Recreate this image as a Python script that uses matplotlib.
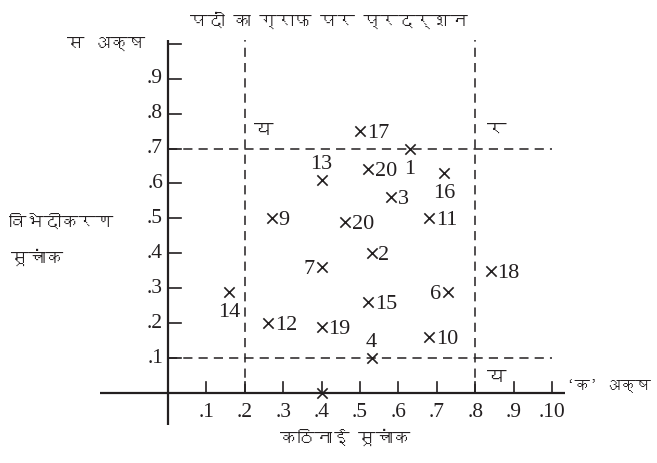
import matplotlib
matplotlib.use("Agg")
import matplotlib.pyplot as plt
from matplotlib import font_manager
from matplotlib.ft2font import FT2Font

# item data: difficulty index (x), discrimination index (y)
item_labels = ["1", "17", "20", "16", "3", "20", "11", "13", "9", "2",
               "18", "6", "15", "10", "4", "7", "14", "12", "19", ""]
difficulty = [0.63, 0.50, 0.52, 0.72, 0.58, 0.46, 0.68, 0.40, 0.27, 0.53,
              0.84, 0.73, 0.52, 0.68, 0.53, 0.40, 0.16, 0.26, 0.40, 0.40]
discrimination = [0.70, 0.75, 0.64, 0.63, 0.56, 0.49, 0.50, 0.61, 0.50, 0.40,
                  0.35, 0.29, 0.26, 0.16, 0.10, 0.36, 0.29, 0.20, 0.19, 0.00]

tick_values = [0.1, 0.2, 0.3, 0.4, 0.5, 0.6, 0.7, 0.8, 0.9, 1.0]
x_tick_labels = [".1", ".2", ".3", ".4", ".5", ".6", ".7", ".8", ".9", ".10"]
y_tick_labels = [".1", ".2", ".3", ".4", ".5", ".6", ".7", ".8", ".9", ""]

low_cut, high_cut = 0.2, 0.8      # difficulty limits
disc_low, disc_high = 0.1, 0.7    # discrimination limits

# where each item number sits around its cross
label_side = ["b", "r", "r", "b", "r", "r", "r", "t", "r", "r",
              "r", "l", "r", "r", "t", "l", "b", "r", "r", "r"]


def find_family(ch):
    for f in font_manager.fontManager.ttflist:
        try:
            if ord(ch) in FT2Font(f.fname).get_charmap():
                return f.name
        except Exception:
            pass
    return None


deva = find_family("क")
hindi_fam = [deva, "DejaVu Sans"] if deva else ["DejaVu Sans"]
num_fam = ["Liberation Serif", "DejaVu Serif"]
ink = "#231f20"
hsize = 12.5

fig = plt.figure(figsize=(6.57, 4.63), dpi=100)
ax = fig.add_axes([0, 0, 1, 1])
ax.set_xlim(-0.4375, 1.2734)
ax.set_ylim(-0.1986, 1.1243)
ax.axis("off")

# axes lines
ax.plot([-0.176, 1.034], [0, 0], color=ink, lw=1.6, solid_capstyle="butt")
ax.plot([0, 0], [-0.09, 1.01], color=ink, lw=1.6, solid_capstyle="butt")
for t, lab in zip(tick_values, x_tick_labels):
    ax.plot([t, t], [0, 0.034], color=ink, lw=1.2)
    ax.text(t, -0.028, lab, ha="center", va="top", fontsize=15.5,
            family=num_fam, color=ink)
for t, lab in zip(tick_values, y_tick_labels):
    ax.plot([0, 0.034], [t, t], color=ink, lw=1.2)
    if lab:
        ax.text(-0.013, t, lab, ha="right", va="center", fontsize=15.5,
                family=num_fam, color=ink)

# dividing lines
dash = (0, (6, 4))
for yv in (disc_low, disc_high):
    ax.plot([0, 1.0], [yv, yv], color=ink, lw=1.1, ls=dash)
for xv in (low_cut, high_cut):
    ax.plot([xv, xv], [0.0, 1.01], color=ink, lw=1.1, ls=dash)

# items
ax.scatter(difficulty, discrimination, marker="x", s=55, color=ink,
           linewidths=1.2, zorder=3)
offsets = {"r": ((5, 0), "left", "center_baseline"),
           "l": ((-5, 0), "right", "center_baseline"),
           "b": ((0, -13), "center", "center_baseline"),
           "t": ((0, 13), "center", "center_baseline")}
for x, y, lab, side in zip(difficulty, discrimination, item_labels, label_side):
    if not lab:
        continue
    off, ha, va = offsets[side]
    ax.annotate(lab, (x, y), xytext=off, textcoords="offset points",
                ha=ha, va=va, fontsize=16, family=num_fam, color=ink)

# region marks
ax.text(low_cut + 0.025, disc_high + 0.03, "य", ha="left", va="bottom",
        fontsize=14, family=hindi_fam, color=ink)
ax.text(high_cut + 0.03, disc_high + 0.03, "र", ha="left", va="bottom",
        fontsize=14, family=hindi_fam, color=ink)
ax.text(high_cut + 0.03, disc_low - 0.03, "य", ha="left", va="top",
        fontsize=14, family=hindi_fam, color=ink)

# titles and axis names
ax.text(0.5, 0.975, "पदों का ग्राफ पर प्रदर्शन", transform=fig.transFigure,
        ha="center", va="top", fontsize=hsize, family=hindi_fam, color=ink)
ax.text(-0.16, 1.0, "स अक्ष", ha="center", va="center", fontsize=hsize,
        family=hindi_fam, color=ink)
ax.text(-0.415, 0.49, "विभेदीकरण", ha="left", va="center", fontsize=hsize,
        family=hindi_fam, color=ink)
ax.text(-0.41, 0.39, "सूचांक", ha="left", va="center", fontsize=hsize,
        family=hindi_fam, color=ink)
ax.text(1.04, 0.02, "‘क’ अक्ष", ha="left", va="center", fontsize=11,
        family=hindi_fam, color=ink)
ax.text(0.46, -0.125, "कठिनाई सूचांक", ha="center", va="center",
        fontsize=hsize, family=hindi_fam, color=ink)

fig.savefig("out.png", dpi=100)
